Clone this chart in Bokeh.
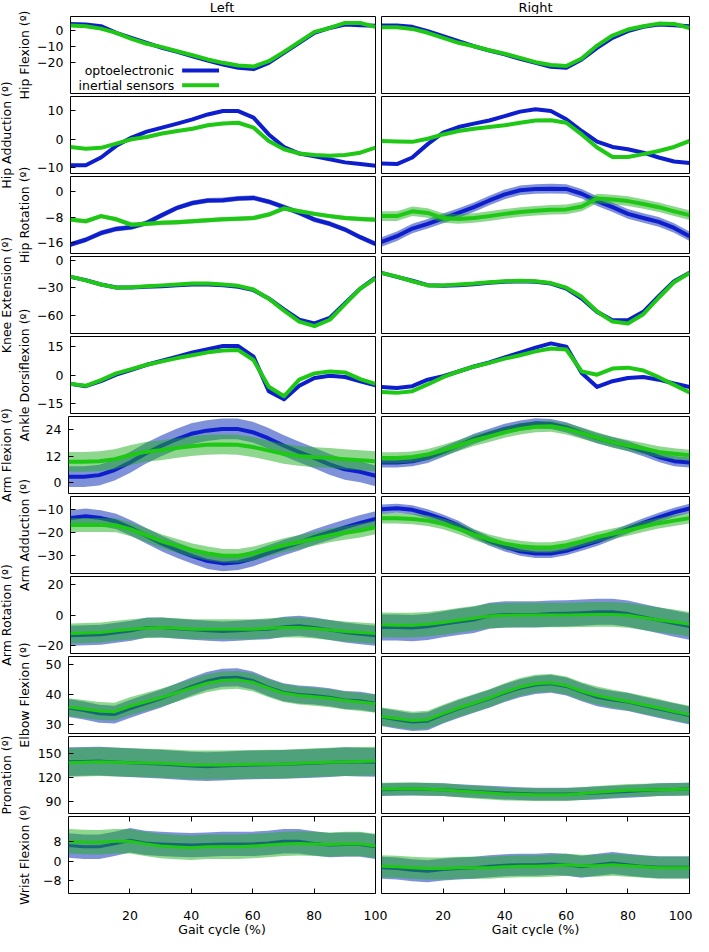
import math
from bokeh.plotting import figure
from bokeh.layouts import row, column
from bokeh.models import Range1d, FixedTicker, LinearAxis, CustomJSTickFormatter
from bokeh.core.properties import value
from bokeh.embed import file_html
from bokeh.resources import INLINE

FONT = "DejaVu Sans"
FS = "12.5px"

# ---------------- data ----------------
gait = list(range(0, 101, 5))
x_ticks = [20, 40, 60, 80, 100]
sides = ["Left", "Right"]
series_names = ["optoelectronic", "inertial sensors"]

row_labels = ["Hip Flexion (º)", "Hip Adduction (º)", "Hip Rotation (º)", "Knee Extension (º)",
              "Ankle Dorsiflexion (º)", "Arm Flexion (º)", "Arm Adduction (º)", "Arm Rotation (º)",
              "Elbow Flexion (º)", "Pronation (º)", "Wrist Flexion (º)"]
y_ranges = [(-39, 8.7), (-12, 15), (-19.3, 4.8), (-80, 4), (-20, 20.3), (-4.9, 29.9),
            (-38, -4.5), (-25, 25), (27.1, 52.8), (74.5, 171), (-13.2, 18.3)]
y_ticks = [[0, -10, -20], [10, 0, -10], [0, -8, -16], [0, -30, -60], [15, 0, -15], [24, 12, 0],
           [-10, -20, -30], [20, 0, -20], [50, 40, 30], [150, 120, 90], [8, 0, -8]]

hip_flex_L_opto = [4.1, 3.8, 2.7, -1.4, -4.5, -7.6, -10.7, -13.2, -15.9, -18.6, -21, -23, -23.9, -20, -13.8, -7.6, -1.4, 1.6, 3.7, 3.3, 3]
hip_flex_L_imu = [3.1, 2.7, 1.2, -1.4, -5.2, -8.2, -10.3, -12.8, -15.3, -17.9, -20, -21.6, -22.3, -19, -13.2, -7, -0.8, 1.6, 4.7, 4.7, 2.3]
hip_flex_R_opto = [3.1, 3.1, 2.3, -0.4, -3.5, -6.6, -9.7, -12.4, -14.8, -17.5, -20, -22.5, -23.1, -17.9, -10.7, -4.5, -0.4, 2.3, 3.7, 3.3, 2.7]
hip_flex_R_imu = [2.1, 2.1, 1.0, -1.4, -4.5, -7.6, -9.7, -12.2, -14.4, -16.9, -19.6, -21.4, -22, -17.3, -9.3, -3.1, 0.6, 2.7, 4.3, 4.1, 1.6]

hip_add_L_opto = [-9.1, -9.1, -6.4, -2.3, 0.6, 2.7, 4.1, 5.5, 7, 8.7, 9.9, 9.9, 7.6, 1.7, -2.7, -5, -6, -7, -8.1, -8.7, -9.3]
hip_add_L_imu = [-2.7, -3.3, -3.0, -1.5, 0, 0.8, 2, 2.9, 3.7, 4.9, 5.5, 5.8, 4.1, -0.6, -3.5, -5, -5.5, -5.8, -5.5, -4.7, -2.9]
hip_add_R_opto = [-8.5, -8.7, -6.4, -1.7, 2.3, 4.3, 5.5, 6.6, 8.1, 9.7, 10.5, 9.9, 7, 2.9, -0.8, -2.7, -3.5, -4.7, -6.4, -7.8, -8.3]
hip_add_R_imu = [-0.6, -0.8, -0.9, 0.2, 1.7, 2.9, 3.7, 4.3, 4.9, 5.8, 6.6, 6.7, 5.8, 1.7, -2.9, -6.2, -6.2, -5.2, -4.1, -2.7, -0.6]

hip_rot_L_opto = [-16.5, -15, -12.9, -11.6, -11.1, -9.7, -7.3, -5, -3.5, -2.7, -2.6, -2.1, -1.9, -3.1, -4.8, -6.6, -8.7, -10, -11.8, -14.2, -16.3]
hip_rot_L_imu = [-8.7, -9.2, -7.6, -8.6, -10.3, -10, -9.7, -9.5, -9.2, -8.9, -8.6, -8.4, -8.2, -7.1, -5.2, -6.1, -6.9, -7.6, -8.2, -8.5, -8.7]
hip_rot_R_opto = [-15.7, -13.9, -11.5, -10.0, -8.3, -6.6, -4.8, -2.7, -0.8, 0.5, 0.9, 1.0, 0.9, -0.6, -2.9, -4.8, -6.9, -8.2, -9.4, -11.3, -13.9]
hip_rot_R_imu = [-7.6, -7.6, -6.1, -6.6, -8.2, -8.5, -8.2, -7.6, -6.9, -6.3, -5.9, -5.6, -5.5, -4.6, -2.1, -2.4, -2.9, -3.8, -4.8, -6.1, -7.3]

knee_L_opto = [-18.2, -21.8, -26.5, -29.8, -29.8, -29, -28.4, -27.3, -26.5, -26.5, -27.3, -29, -32.7, -41.8, -53.8, -65, -69, -63, -47, -31, -19]
knee_L_imu = [-18, -22, -26.5, -30, -29.5, -28.5, -27.5, -26.5, -25.5, -25.5, -26.5, -28, -32, -42, -55, -67, -72, -65, -48, -31, -20]
knee_R_opto = [-13.8, -18.2, -22.5, -27.3, -28, -27.3, -26.2, -24.7, -23.6, -22.9, -23.6, -25.5, -30.9, -41.8, -56.4, -65.5, -65.5, -56.4, -39.3, -22.9, -13.8]
knee_R_imu = [-13.8, -18, -23, -27.5, -27.5, -26.5, -25.5, -24, -23, -22.5, -23, -25, -30, -40, -56, -67, -69, -59, -41, -24, -14]

ankle_L_opto = [-4.5, -5.7, -3.1, 0.3, 2.9, 5.5, 7.6, 9.8, 11.9, 13.6, 15.3, 15.3, 9.8, -8.3, -12.6, -5.5, -1.4, -0.2, -0.9, -3.1, -5.2]
ankle_L_imu = [-4.5, -5.5, -2.5, 1, 3.2, 5.5, 7.3, 9, 10.5, 12, 13, 13.2, 8, -6, -11, -2.3, 1, 2, 1.5, -2, -4.5]
ankle_R_opto = [-6.1, -6.6, -5.7, -2.3, -0.5, 2, 4.6, 6.7, 9.3, 11.9, 14.5, 16.7, 15, 1.2, -6.1, -3.1, -1.4, -0.9, -2.3, -4.3, -6.1]
ankle_R_imu = [-8.8, -9.2, -8.3, -4.8, -1, 2, 4.5, 6.5, 8.7, 10.5, 12.5, 14, 13.5, 2, 0.3, 3.5, 4, 2.5, -1, -5, -9]

arm_flex_L_opto = [2.7, 2.7, 3.4, 5.7, 9.1, 13.1, 16.5, 19.5, 22.1, 23.5, 24.3, 24.3, 22.8, 20.1, 16.8, 13.9, 11.2, 8.3, 6, 4.9, 3.1]
arm_flex_L_imu = [9.4, 9.4, 9.7, 10.6, 12.4, 13.9, 14.6, 15.6, 16.5, 17.1, 17.3, 17.1, 16.1, 14.6, 13.1, 12.1, 11.5, 11.2, 10.6, 10.1, 9.7]
arm_flex_R_opto = [9.1, 9.1, 9.7, 11.2, 13.9, 16.8, 19.8, 22.1, 24.3, 25.8, 26.8, 26.5, 25, 22.5, 20.1, 18.3, 16.5, 14.2, 11.6, 9.7, 9.1]
arm_flex_R_imu = [11.2, 11.2, 11.6, 12.7, 14.6, 16.8, 19.1, 20.9, 22.8, 24.3, 25.3, 25.5, 24.3, 22.4, 20.3, 18.3, 16.8, 15.4, 13.9, 13.1, 12.4]

arm_add_L_opto = [-13.9, -13.1, -13.9, -15.4, -18.3, -21.7, -25, -27.9, -30.4, -32.6, -33.6, -33.1, -31.4, -29, -26.7, -24.6, -22.1, -20, -17.9, -16, -14.3]
arm_add_L_imu = [-16.9, -16.9, -16.9, -17.1, -18.9, -21.4, -24, -26, -27.9, -29.3, -30.3, -30.3, -29.3, -27.4, -25.7, -24.3, -22.9, -21.4, -20.3, -19.3, -17.9]
arm_add_R_opto = [-10, -9.6, -10.3, -12.1, -14.3, -17.1, -20.7, -23.9, -26.4, -28.3, -29.3, -29.3, -28.1, -26.1, -24, -21.4, -18.6, -16, -13.6, -11.4, -9.7]
arm_add_R_imu = [-14, -14, -14.3, -15, -16.4, -18.6, -21.1, -23.3, -25, -26.1, -26.7, -26.7, -25.7, -24, -22.1, -20.7, -19.3, -17.6, -16.1, -15, -13.9]

arm_rot_L_opto = [-13.5, -13.2, -12.8, -11.5, -10.3, -8.1, -8.1, -9, -9.6, -10.2, -10.7, -10.2, -9.6, -9.2, -7.7, -7, -8.1, -9.8, -11.3, -12.5, -13.5]
arm_rot_L_imu = [-12, -11.7, -11.3, -10.2, -9.2, -8.5, -8.1, -8.6, -9.2, -9.2, -9.2, -9.2, -9.2, -8.6, -8.1, -8.1, -8.8, -9.8, -10.7, -11.3, -12]
arm_rot_R_opto = [-8.1, -8.1, -8.5, -7.7, -6, -4.5, -3.2, -0.5, 0.4, 0.4, 0.4, 0.9, 1.1, 1.5, 2.1, 2.1, 0.9, -1.3, -3.4, -5.6, -7.5]
arm_rot_R_imu = [-6.4, -6.6, -6.6, -6, -4.9, -3.4, -2.1, -0.6, -0.2, 0, 0, 0, 0, 0.2, 0.4, 0.4, -0.2, -1.7, -3.2, -4.5, -6]

elbow_L_opto = [35.6, 34.8, 33.7, 33.4, 35.3, 37, 38.7, 40.7, 42.8, 44.6, 45.7, 45.9, 44.8, 42.6, 40.9, 40.1, 39.8, 39.2, 38.3, 38, 37.2]
elbow_L_imu = [35.9, 35.3, 34.6, 34.4, 36.2, 37.6, 39, 40.6, 42.3, 43.9, 44.8, 45, 44.2, 42.3, 40.6, 39.8, 39.4, 38.9, 38.1, 37.6, 37]
elbow_R_opto = [32.6, 31.7, 30.9, 31.2, 33.4, 35.3, 37, 38.7, 40.6, 42.2, 43.3, 43.7, 42.8, 40.9, 39.2, 38.3, 37.6, 36.4, 35.3, 34.2, 33.1]
elbow_R_imu = [32.8, 32.1, 31.4, 31.7, 33.7, 35.6, 37.2, 38.9, 40.9, 42.6, 43.7, 44, 43.1, 41.2, 39.8, 38.7, 37.8, 36.7, 35.6, 34.4, 33.4]

pron_L_opto = [139.4, 139.8, 140.2, 139.2, 138.2, 137.3, 136.5, 135.2, 134, 133.2, 134, 134.7, 135.3, 135.7, 136.1, 136.8, 137.4, 138.4, 139.4, 139, 138.6]
pron_L_imu = [138.2, 138.8, 139.4, 138.8, 138.2, 137.8, 137.4, 136.4, 135.3, 135.3, 135.3, 135.7, 136.1, 136.3, 136.5, 137.4, 138.2, 138.8, 139.4, 139.8, 140.2]
pron_R_opto = [104.3, 104.7, 105.1, 104.7, 104.3, 103.2, 102.2, 101.2, 100.2, 99.5, 98.9, 98.9, 98.9, 99.5, 100.2, 101.2, 102.2, 103.2, 104.3, 104.7, 105.1]
pron_R_imu = [105.1, 105.3, 105.5, 104.9, 104.3, 102.8, 101.4, 100.2, 98.9, 98.5, 98.1, 98.1, 98.1, 99.5, 101, 102.3, 103.5, 103.9, 104.3, 104.7, 105.1]

wrist_L_opto = [6.4, 5.9, 5.9, 7.1, 8.6, 7.5, 7.1, 6.8, 6.6, 6.8, 7.1, 7.1, 7.1, 7.5, 8.2, 8.2, 7.3, 6.6, 6.8, 6.8, 5.9]
wrist_L_imu = [8.2, 7.9, 7.8, 8.2, 8.2, 7.1, 6.2, 5.8, 5.5, 5.9, 5.9, 5.9, 6.2, 6.6, 7.1, 7.3, 7.1, 6.8, 7.1, 7.1, 6.2]
wrist_R_opto = [-2.7, -3, -3.7, -4.1, -3.4, -3, -2.7, -2.1, -1.6, -1.4, -1.4, -1.1, -1.4, -2.3, -1.4, -0.7, -1.4, -2.1, -2.5, -2.5, -2.5]
wrist_R_imu = [-2.1, -2.3, -2.7, -3, -3, -2.7, -2.7, -2.7, -2.3, -2.1, -2.1, -1.8, -1.4, -1.8, -1.8, -1.4, -1.8, -2.3, -2.7, -2.7, -2.7]

# standard deviation (band half-width) per row
sd_L_opto = [0, 0, 0.8, 0, 0, 4.7, 3.4, 6.5, 3.0, 18, 5.0]
sd_L_imu = [0, 0, 0.7, 0, 0, 4.5, 3.0, 6.5, 3.0, 18, 5.0]
sd_R_opto = [0, 0, 1.5, 0, 0, 2.3, 2.0, 8.5, 3.0, 8, 4.5]
sd_R_imu = [0, 0, 1.5, 0, 0, 2.5, 2.3, 8.0, 3.0, 8, 4.5]

left_opto = [hip_flex_L_opto, hip_add_L_opto, hip_rot_L_opto, knee_L_opto, ankle_L_opto, arm_flex_L_opto,
             arm_add_L_opto, arm_rot_L_opto, elbow_L_opto, pron_L_opto, wrist_L_opto]
left_imu = [hip_flex_L_imu, hip_add_L_imu, hip_rot_L_imu, knee_L_imu, ankle_L_imu, arm_flex_L_imu,
            arm_add_L_imu, arm_rot_L_imu, elbow_L_imu, pron_L_imu, wrist_L_imu]
right_opto = [hip_flex_R_opto, hip_add_R_opto, hip_rot_R_opto, knee_R_opto, ankle_R_opto, arm_flex_R_opto,
              arm_add_R_opto, arm_rot_R_opto, elbow_R_opto, pron_R_opto, wrist_R_opto]
right_imu = [hip_flex_R_imu, hip_add_R_imu, hip_rot_R_imu, knee_R_imu, ankle_R_imu, arm_flex_R_imu,
             arm_add_R_imu, arm_rot_R_imu, elbow_R_imu, pron_R_imu, wrist_R_imu]

# ---------------- style / layout ----------------
BLUE = "#0f1ecd"
GREEN = "#1ec814"
BLUE_BAND = "#2a4ac0"
GREEN_BAND = "#20b020"

TOTAL_W = 693
STRIP_W = 34
MAIN_W = TOTAL_W - STRIP_W
L_BORDER, L_RIGHT = 34, 3
R_BORDER, R_RIGHT = 3, 4
L_FRAME_W, R_FRAME_W = 307, 308
L_FIG_W = L_BORDER + L_FRAME_W + L_RIGHT
R_FIG_W = R_BORDER + R_FRAME_W + R_RIGHT
ROW_H, FRAME_H, TOP_B = 80, 77, 2
BOT_EXTRA = 12
HEADER_H, FOOTER_H = 14, 30
N = len(row_labels)
BODY_H = N * ROW_H + BOT_EXTRA
TOTAL_H = HEADER_H + BODY_H + FOOTER_H


def make_panel(i, side):
    is_left = side == 0
    bottom = i == N - 1
    opto = (left_opto if is_left else right_opto)[i]
    imu = (left_imu if is_left else right_imu)[i]
    sd_o = (sd_L_opto if is_left else sd_R_opto)[i]
    sd_i = (sd_L_imu if is_left else sd_R_imu)[i]
    h = ROW_H + (BOT_EXTRA if bottom else 0)
    p = figure(width=L_FIG_W if is_left else R_FIG_W, height=h,
               output_backend="svg", toolbar_location=None,
               x_range=Range1d(0, 100), y_range=Range1d(*y_ranges[i]),
               min_border_left=L_BORDER if is_left else R_BORDER,
               min_border_right=L_RIGHT if is_left else R_RIGHT,
               min_border_top=TOP_B, min_border_bottom=h - TOP_B - FRAME_H,
               x_axis_location=None, y_axis_location="left" if is_left else None)
    p.xgrid.visible = False
    p.ygrid.visible = False
    p.outline_line_color = "black"
    p.outline_line_width = 1
    p.outline_line_alpha = 1
    p.border_fill_color = "white"
    lw = 4 if i < 7 else 3
    if sd_o > 0:
        p.varea(x=gait, y1=[v - sd_o for v in opto], y2=[v + sd_o for v in opto],
                fill_color=BLUE_BAND, fill_alpha=0.6)
    p.line(gait, opto, line_color=BLUE, line_width=lw, line_join="round")
    if sd_i > 0:
        p.varea(x=gait, y1=[v - sd_i for v in imu], y2=[v + sd_i for v in imu],
                fill_color=GREEN_BAND, fill_alpha=0.5)
    p.line(gait, imu, line_color=GREEN, line_width=lw, line_join="round")

    if is_left:
        ax = p.yaxis[0]
        ax.ticker = FixedTicker(ticks=y_ticks[i])
        ax.major_tick_in = 5
        ax.major_tick_out = 0
        ax.minor_tick_in = 0
        ax.minor_tick_out = 0
        ax.axis_line_color = None
        ax.major_tick_line_color = "black"
        ax.major_label_text_font = FONT
        ax.major_label_text_font_size = FS
        ax.major_label_text_color = "black"
        ax.major_label_standoff = 7
    if bottom:
        for loc in ("below", "above"):
            xa = LinearAxis(ticker=FixedTicker(ticks=x_ticks),
                            formatter=CustomJSTickFormatter(code="return ''"))
            xa.major_tick_in = 5
            xa.major_tick_out = 0
            xa.minor_tick_in = 0
            xa.minor_tick_out = 0
            xa.axis_line_color = None
            xa.major_label_text_font_size = "1px"
            xa.major_label_standoff = 0
            p.add_layout(xa, loc)
    if i == 0 and is_left:
        # legend (label then line sample, gnuplot style)
        p.text(x=[34, 34], y=[-24.8, -33.9], text=series_names,
               text_align="right", text_baseline="middle",
               text_font=value(FONT), text_font_size=FS, text_color="black")
        p.segment(x0=[36.6, 36.6], x1=[48.7, 48.7], y0=[-24.8, -33.9], y1=[-24.8, -33.9],
                  line_color=[BLUE, GREEN], line_width=4)
    return p


rows = [row(make_panel(i, 0), make_panel(i, 1)) for i in range(N)]

# y-axis titles strip (full height so long titles are not clipped)
strip = figure(width=STRIP_W, height=TOTAL_H, output_backend="svg", toolbar_location=None,
               x_range=Range1d(0, STRIP_W), y_range=Range1d(0, TOTAL_H), min_border=0,
               x_axis_location=None, y_axis_location=None)
strip.outline_line_color = None
strip.xgrid.visible = False
strip.ygrid.visible = False
lab_x = [24 if i % 2 == 0 else 6 for i in range(N)]
lab_y = [TOTAL_H - (HEADER_H + i * ROW_H + TOP_B + FRAME_H / 2) for i in range(N)]
strip.text(x=lab_x, y=lab_y, text=row_labels, angle=math.pi / 2,
           text_align="center", text_baseline="middle",
           text_font=value(FONT), text_font_size=FS, text_color="black")

# horizontal ranges aligned with left / right panel frames
lx0 = L_BORDER
rx0 = L_FIG_W + R_BORDER
left_rng = Range1d(-lx0 * 100 / L_FRAME_W, (MAIN_W - lx0) * 100 / L_FRAME_W)
right_start = -rx0 * 100 / R_FRAME_W
right_end = (MAIN_W - rx0) * 100 / R_FRAME_W


def band_fig(h):
    f = figure(width=MAIN_W, height=h, output_backend="svg", toolbar_location=None,
               x_range=left_rng, y_range=Range1d(0, h), min_border=0,
               x_axis_location=None, y_axis_location=None)
    f.extra_x_ranges = {"right": Range1d(right_start, right_end)}
    f.outline_line_color = None
    f.xgrid.visible = False
    f.ygrid.visible = False
    return f


header = band_fig(HEADER_H)
header.text(x=[50], y=[HEADER_H / 2], text=[sides[0]], text_align="center", text_baseline="middle",
            text_font=value(FONT), text_font_size="13px", text_color="black")
header.text(x=[50], y=[HEADER_H / 2], text=[sides[1]], text_align="center", text_baseline="middle",
            text_font=value(FONT), text_font_size="13px", text_color="black", x_range_name="right")

footer = band_fig(FOOTER_H)
tick_y = FOOTER_H - 9
footer.text(x=x_ticks, y=[tick_y] * len(x_ticks), text=[str(t) for t in x_ticks],
            text_align="center", text_baseline="middle",
            text_font=value(FONT), text_font_size=FS, text_color="black")
footer.text(x=x_ticks[:-1], y=[tick_y] * (len(x_ticks) - 1), text=[str(t) for t in x_ticks[:-1]],
            text_align="center", text_baseline="middle",
            text_font=value(FONT), text_font_size=FS, text_color="black", x_range_name="right")
# last tick label of the right panel kept inside the page edge
footer.text(x=x_ticks[-1:], y=[tick_y], text=[str(x_ticks[-1])],
            text_align="right", text_baseline="middle", x_offset=3,
            text_font=value(FONT), text_font_size=FS, text_color="black", x_range_name="right")
for rn in ("default", "right"):
    footer.text(x=[50], y=[7], text=["Gait cycle (%)"], text_align="center", text_baseline="middle",
                text_font=value(FONT), text_font_size=FS, text_color="black", x_range_name=rn)

page = row(strip, column(header, column(*rows), footer))

open("out.html", "w").write(file_html(page, INLINE))
